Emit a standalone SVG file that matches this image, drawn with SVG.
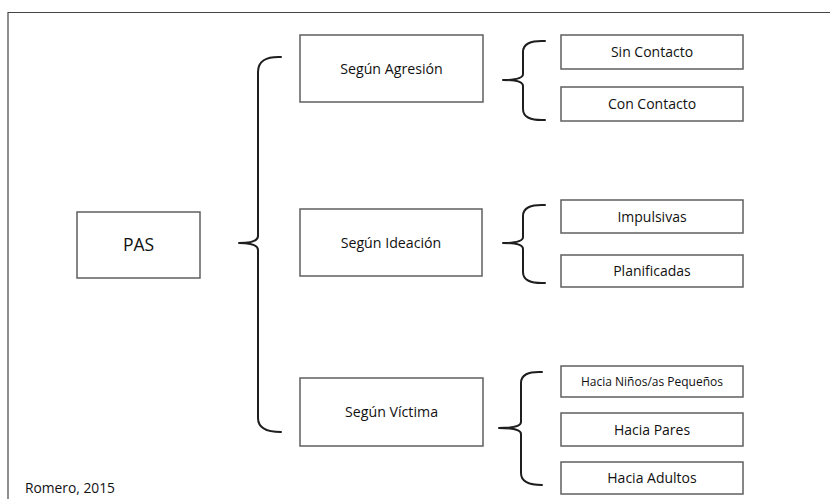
<svg xmlns="http://www.w3.org/2000/svg" width="830" height="499" viewBox="0 0 830 499">
<style>
.box{fill:#fff;stroke:#5f5f5f;stroke-width:1.5}
.br{fill:none;stroke:#1e1e1e;stroke-width:2;stroke-linecap:round;stroke-linejoin:round}
text{font-family:"Open Sans","Noto Sans","Liberation Sans",sans-serif;fill:#111;text-anchor:middle;dominant-baseline:central}
.m{font-size:14.2px}
.s{font-size:14px}
</style>
<rect width="830" height="499" fill="#fff"/>
<path d="M8,499 L8,12.5 L830,12.5" fill="none" stroke="#444" stroke-width="1.2"/>
<g id="connectors">
<path class="br" d="M281,57 Q258,56 258,72 L258,236 Q258,243 239,243 Q258,243 258,250 L258,418 Q258,432 281,432"/>
<path class="br" d="M545,41 Q523,40 523,52 L523,74 Q523,80 503,80 Q523,80 523,86 L523,109 Q523,121 545,120"/>
<path class="br" d="M545,205 Q523,204 523,216 L523,237 Q523,243 503,243 Q523,243 523,249 L523,272 Q523,284 545,283"/>
<path class="br" d="M542,372 Q521,371 521,383 L521,422 Q521,428 499,428 Q521,428 521,434 L521,473 Q521,485 542,485"/>
</g>
<g id="pas"><rect class="box" x="77" y="212" width="123" height="66"/><text x="138.5" y="244" style="font-size:17.5px">PAS</text></g>
<g id="agresion"><rect class="box" x="300" y="35" width="183" height="67"/><text class="m" x="391.5" y="68.5">Según Agresión</text></g>
<g id="ideacion"><rect class="box" x="300" y="209" width="182" height="67"/><text class="m" x="391" y="242.5">Según Ideación</text></g>
<g id="victima"><rect class="box" x="300" y="378" width="183" height="68"/><text class="m" x="391.5" y="411.5">Según Víctima</text></g>
<g id="sin"><rect class="box" x="561" y="35" width="182" height="34"/><text class="s" x="652" y="51.5">Sin Contacto</text></g>
<g id="con"><rect class="box" x="561" y="87" width="182" height="34"/><text class="s" x="652" y="103.5">Con Contacto</text></g>
<g id="impulsivas"><rect class="box" x="561" y="200" width="182" height="33"/><text class="s" x="652" y="216">Impulsivas</text></g>
<g id="planificadas"><rect class="box" x="561" y="255" width="182" height="32"/><text class="s" x="652" y="270.5">Planificadas</text></g>
<g id="ninos"><rect class="box" x="561" y="366" width="182" height="31"/><text x="652" y="381" style="font-size:12px">Hacia Niños/as Pequeños</text></g>
<g id="pares"><rect class="box" x="561" y="413" width="182" height="33"/><text class="s" x="652" y="429">Hacia Pares</text></g>
<g id="adultos"><rect class="box" x="561" y="462" width="182" height="32"/><text class="s" x="652" y="477.5">Hacia Adultos</text></g>
<text x="25" y="493" style="font-size:13.8px;text-anchor:start;dominant-baseline:auto">Romero, 2015</text>
</svg>
